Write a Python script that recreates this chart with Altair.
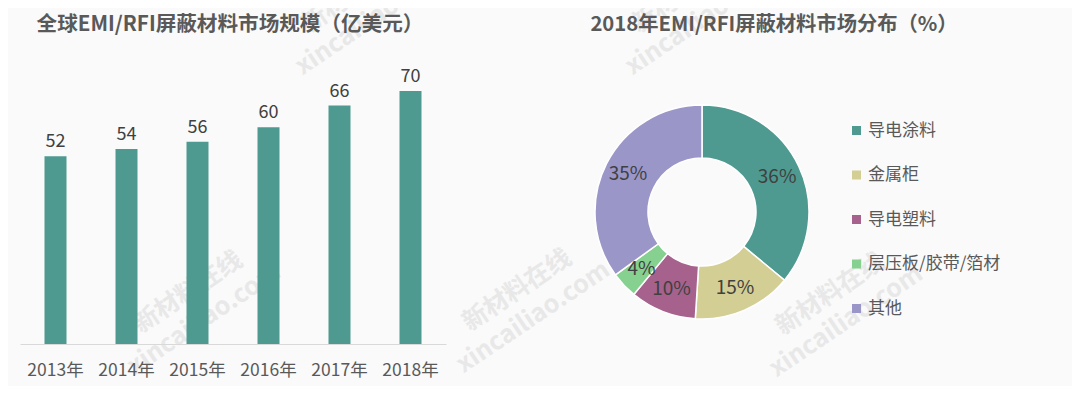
import altair as alt
import pandas as pd

# ---- data ----
years = ["2013年", "2014年", "2015年", "2016年", "2017年", "2018年"]
market_size = [52, 54, 56, 60, 66, 70]

segments = ["导电涂料", "金属柜", "导电塑料", "层压板/胶带/箔材", "其他"]
shares = [36, 15, 10, 4, 35]
seg_colors = ["#4E9A90", "#D3CE94", "#A6628D", "#86D090", "#9A96C8"]

title_left = "全球EMI/RFI屏蔽材料市场规模（亿美元）"
title_right = "2018年EMI/RFI屏蔽材料市场分布（%）"
wm_cn = "新材料在线"
wm_en = "xincailiao.com"

FONT = "Noto Sans CJK SC"
TXT = "#595959"

bars_df = pd.DataFrame({"year": years, "value": market_size})
pie_df = pd.DataFrame({
    "segment": segments,
    "share": shares,
    "order": list(range(len(segments))),
    "label": [f"{s}%" for s in shares],
})

# ---- watermarks (decoration) ----
wm_layers = []
for cx, cy in [(180, 284), (509, 282), (822, 286), (348, -16), (678, -16)]:
    wm_layers.append(
        alt.Chart(pd.DataFrame({"t": [wm_cn]})).mark_text(
            font=FONT, fontSize=25, fontWeight="bold", color="#e8e8e8", angle=326
        ).encode(text="t:N", x=alt.value(cx), y=alt.value(cy))
    )
    wm_layers.append(
        alt.Chart(pd.DataFrame({"t": [wm_en]})).mark_text(
            font=FONT, fontSize=25, fontWeight="bold", color="#e8e8e8", angle=326
        ).encode(text="t:N", x=alt.value(cx + 16), y=alt.value(cy + 27))
    )

# ---- bar chart ----
xenc = alt.X(
    "year:N",
    sort=years,
    scale=alt.Scale(range=[12, 438], paddingInner=0.69, paddingOuter=0.345),
    axis=alt.Axis(
        title=None, ticks=False, domainColor="#d9d9d9", domainWidth=1,
        labelFont=FONT, labelFontSize=17.5, labelColor=TXT, labelPadding=17,
        labelAngle=0, grid=False, zindex=1,
    ),
)
yenc = alt.Y("value:Q", scale=alt.Scale(domain=[0, 93], nice=False), axis=None)

bars = alt.Chart(bars_df).mark_bar(color="#4E9A90").encode(x=xenc, y=yenc)
bar_labels = alt.Chart(bars_df).mark_text(
    font=FONT, fontSize=18, color="#404040", baseline="bottom", dy=-5
).encode(x=xenc, y=yenc, text="value:Q")

# ---- donut ----
theta = alt.Theta("share:Q", stack=True)
color = alt.Color(
    "segment:N",
    sort=segments,
    scale=alt.Scale(domain=segments, range=seg_colors),
    legend=alt.Legend(
        title=None, orient="none", legendX=840, legendY=114,
        symbolType="square", symbolSize=81, symbolStrokeWidth=0,
        labelFont=FONT, labelFontSize=17, labelColor=TXT,
        rowPadding=26.5, labelOffset=3, zindex=1,
    ),
)
arcs = alt.Chart(pie_df).mark_arc(
    innerRadius=54, outerRadius=107, stroke="#ffffff", strokeWidth=1.5
).encode(
    theta=theta, color=color, order=alt.Order("order:Q"),
    x=alt.value(694), y=alt.value(204),
)
arc_labels = alt.Chart(pie_df).mark_text(
    radius=83, font=FONT, fontSize=19, color="#404040"
).encode(
    theta=theta, order=alt.Order("order:Q"), text="label:N",
    x=alt.value(694), y=alt.value(204),
)

# ---- titles ----
t_left = alt.Chart(pd.DataFrame({"t": [title_left]})).mark_text(
    font=FONT, fontSize=20.6, fontWeight="bold", color=TXT
).encode(text="t:N", x=alt.value(222), y=alt.value(17))
t_right = alt.Chart(pd.DataFrame({"t": [title_right]})).mark_text(
    font=FONT, fontSize=20.3, fontWeight="bold", color=TXT
).encode(text="t:N", x=alt.value(766), y=alt.value(17))

chart = alt.layer(
    *wm_layers, bars, bar_labels, arcs, arc_labels, t_left, t_right
).properties(
    width=1064, height=336,
    autosize=alt.AutoSizeParams(type="none"),
    padding={"left": 0, "top": 0, "right": 0, "bottom": 42},
    background="#fafafa",
).configure_view(stroke=None)

chart.save("out.html", embed_options={"renderer": "svg", "actions": False})
